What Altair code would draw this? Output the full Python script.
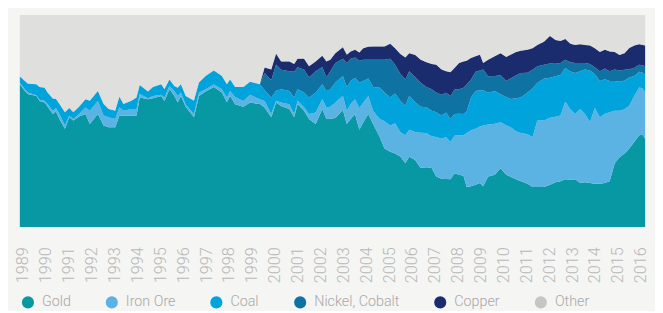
import altair as alt
import pandas as pd

series = ["Gold", "Iron Ore", "Coal", "Nickel, Cobalt", "Copper", "Other"]
colors = ["#0898a4", "#5ab3e3", "#00a3db", "#0e73a3", "#1b2c6e", "#c6c6c4"]

years = [1988.86, 1989.08, 1989.22, 1989.58, 1989.72, 1989.94, 1990.08, 1990.30, 1990.44, 1990.59,
         1990.83, 1991.02, 1991.20, 1991.45, 1991.73, 1991.92, 1992.27, 1992.52, 1992.74, 1993.03,
         1993.21, 1993.39, 1993.74, 1993.96, 1994.10, 1994.46, 1994.68, 1995.04, 1995.18, 1995.40,
         1995.61, 1995.76, 1995.90, 1996.11, 1996.47, 1996.69, 1996.98, 1997.34, 1997.69, 1997.91,
         1998.05, 1998.27, 1998.63, 1998.92, 1999.35, 1999.56, 1999.85, 2000.06, 2000.28, 2000.64,
         2000.85, 2001.00, 2001.28, 2001.50, 2001.79, 2002.08, 2002.26,
         2002.43, 2002.65, 2002.98, 2003.15, 2003.32, 2003.51, 2003.70, 2003.87, 2004.09, 2004.30,
         2004.59, 2004.80, 2005.05, 2005.26, 2005.49, 2005.71, 2005.88, 2006.14, 2006.38, 2006.63,
         2006.86, 2007.06, 2007.29, 2007.49, 2007.68, 2007.86, 2008.06, 2008.25, 2008.39, 2008.58,
         2008.78, 2008.97, 2009.11, 2009.33, 2009.62, 2009.87, 2010.12, 2010.33, 2010.55, 2010.76,
         2011.05, 2011.27, 2011.48, 2011.77, 2012.03, 2012.27, 2012.49, 2012.70, 2012.92, 2013.13,
         2013.35, 2013.56, 2013.78, 2013.99, 2014.21, 2014.43, 2014.64, 2014.86, 2015.07, 2015.29,
         2015.50, 2015.72, 2015.93, 2016.08, 2016.19]

gold = [67.3, 64.2, 62.6, 61.9, 59.5, 58.8, 56.7, 53.3, 54.6, 51.0,
        46.4, 51.8, 50.2, 52.1, 53.3, 48.7, 53.3, 47.9, 47.1, 47.1,
        52.6, 52.6, 52.6, 52.6, 61.1, 60.3, 60.8, 61.9, 59.5, 65.0,
        61.9, 58.8, 61.9, 56.7, 51.8, 61.9, 63.9, 66.0, 63.4, 58.8,
        61.9, 58.0, 56.7, 58.8, 58.0, 56.4, 51.8, 58.8, 57.2, 55.7,
        51.8, 58.0, 54.9, 51.0, 48.7, 55.7, 51.0,
        51.0, 51.5, 55.2, 48.7, 51.0, 53.3, 45.9, 49.5, 53.3, 48.7,
        42.5, 37.1, 35.5, 34.7, 33.2, 30.1, 33.2, 31.6, 27.8, 28.2,
        27.8, 23.9, 22.8, 22.6, 22.6, 25.4, 24.7, 24.2, 18.9, 19.2,
        20.0, 20.8, 19.2, 23.9, 24.7, 27.8, 24.7, 23.6, 22.6, 21.6,
        20.5, 18.9, 18.9, 18.9, 20.0, 21.1, 21.6, 22.6, 22.3, 22.6,
        20.8, 21.1, 20.8, 20.5, 20.5, 20.8, 21.6, 30.1, 32.9, 34.7,
        37.1, 40.2, 43.3, 43.6, 41.7]

iron_ore = [0.8, 0.8, 0.8, 0.3, 0.5, 0.8, 1.2, 1.6, 1.6, 2.3,
            1.6, 0.8, 0.8, 1.2, 3.1, 6.2, 6.2, 4.7, 4.7, 3.9,
            3.9, 2.3, 3.1, 3.1, 1.6, 0.5, 1.1, 0.5, 1.6, 1.6,
            2.3, 3.1, 1.6, 0.9, 1.6, 1.6, 1.1, 1.2, 1.6, 2.3,
            2.3, 3.4, 2.8, 3.6, 2.3, 3.1, 1.6, 0.8, 1.6, 2.3,
            1.6, 1.6, 1.6, 2.3, 5.4, 4.7, 5.4,
            5.7, 7.3, 6.7, 6.2, 7.0, 7.0, 10.2, 9.3, 8.5, 6.2,
            8.5, 12.9, 12.4, 14.3, 11.6, 13.2, 12.7, 13.2, 16.7, 16.1,
            15.0, 18.6, 18.9, 19.8, 17.5, 17.8, 18.6, 19.1, 25.4, 26.4,
            26.4, 26.7, 28.7, 24.5, 24.0, 21.7, 23.3, 23.3, 22.6, 22.8,
            23.3, 23.6, 31.3, 31.3, 31.5, 31.0, 31.0, 36.6, 33.3, 30.7,
            34.9, 32.2, 28.7, 35.7, 31.3, 32.6, 32.6, 24.8, 22.0, 20.9,
            20.2, 21.7, 22.5, 21.9, 21.7]

coal = [2.9, 3.9, 4.2, 5.1, 6.0, 6.2, 5.4, 5.7, 4.2, 4.7,
        6.2, 3.6, 3.1, 3.4, 3.9, 4.7, 4.7, 5.4, 3.9, 3.9,
        5.0, 3.1, 3.9, 5.4, 4.3, 3.1, 4.2, 5.0, 3.9, 3.1,
        2.3, 3.9, 3.9, 4.2, 6.2, 4.7, 6.2, 6.5, 6.2, 6.2,
        5.4, 4.7, 6.5, 6.2, 7.0, 5.0, 7.8, 4.7, 6.2, 6.2,
        7.8, 5.4, 7.0, 7.8, 9.3, 7.0, 7.8,
        8.2, 9.3, 9.3, 11.2, 10.9, 10.1, 11.9, 10.1, 8.2, 11.2,
        14.7, 13.5, 13.2, 14.0, 14.7, 14.0, 16.0, 14.0, 12.2, 12.1,
        12.1, 11.6, 10.9, 11.6, 10.9, 10.1, 10.1, 10.1, 10.2, 15.5,
        17.8, 17.1, 16.6, 15.0, 15.5, 13.2, 13.2, 13.5, 15.5, 16.7,
        19.7, 22.9, 17.8, 19.8, 18.9, 19.1, 19.1, 15.8, 17.8, 19.4,
        17.8, 20.9, 24.3, 16.1, 17.1, 16.3, 14.7, 14.0, 13.6, 13.5,
        13.2, 9.3, 7.4, 7.3, 8.5]

nickel_cobalt = [0.0] * 45 + [
        8.2, 8.1, 12.4, 9.3, 9.3, 12.1, 10.4, 10.9, 9.6, 10.1, 8.1, 6.5,
        8.5, 9.3, 8.2, 11.3, 10.5, 9.6, 10.4, 10.1, 8.8, 12.9,
        13.2, 15.5, 18.3, 13.6, 12.7, 12.4, 11.6, 11.9, 11.3, 9.6,
        10.1, 9.3, 9.8, 9.3, 10.9, 11.6, 11.6, 12.4, 12.7, 8.5,
        9.0, 9.3, 9.8, 7.8, 7.0, 9.0, 7.8, 9.8, 10.9, 11.6,
        9.3, 8.8, 7.8, 6.5, 6.7, 5.9, 5.7, 3.9, 4.3, 4.7,
        3.9, 3.1, 3.1, 3.1, 4.7, 5.1, 4.7, 5.4, 5.3, 5.1,
        3.9, 3.9, 3.4, 3.6, 3.9]

copper = [0.0] * 45 + [
        2.6, 5.1, 5.1, 3.9, 4.7, 3.7, 4.0, 5.1, 5.1, 4.7, 5.4, 7.4,
        5.4, 4.7, 5.4, 3.9, 3.4, 3.6, 3.9, 5.4, 6.2, 6.2,
        6.2, 6.2, 7.0, 7.8, 9.3, 10.4, 8.5, 10.5, 10.9, 11.6,
        11.9, 13.2, 11.9, 10.1, 11.2, 10.1, 12.4, 12.4, 11.2, 10.1,
        7.3, 7.4, 3.1, 7.8, 9.3, 10.4, 11.2, 11.2, 10.9, 10.4,
        10.9, 10.1, 10.1, 10.9, 13.0, 11.2, 10.4, 9.8, 8.8, 8.5,
        8.8, 8.5, 8.7, 9.0, 9.0, 8.8, 9.3, 8.2, 7.4, 7.8,
        10.1, 10.5, 9.6, 9.6, 9.8]

other = [29.0, 31.2, 32.4, 32.7, 34.0, 34.3, 36.6, 39.4, 39.7, 42.0,
         45.9, 43.9, 45.9, 43.3, 39.7, 40.5, 35.8, 42.0, 44.3, 45.1,
         38.6, 42.0, 40.5, 38.9, 33.0, 36.1, 34.0, 32.7, 35.0, 30.4,
         33.5, 34.3, 32.7, 38.1, 40.5, 31.9, 28.8, 26.2, 28.8, 32.7,
         30.4, 34.0, 34.0, 31.5, 32.7, 24.7, 25.7, 18.3, 21.9, 21.9,
         23.1, 20.6, 20.6, 24.2, 21.9, 19.2, 21.9,
         21.1, 18.0, 15.2, 18.8, 17.2, 16.4, 17.7, 15.7, 14.9, 14.9,
         14.9, 14.9, 13.6, 15.7, 18.4, 20.0, 18.0, 18.8, 21.1, 22.3,
         23.1, 23.4, 25.7, 26.5, 27.0, 25.0, 22.6, 21.9, 21.6, 20.3,
         19.5, 18.8, 22.6, 21.1, 19.5, 18.0, 19.8, 18.6, 17.5, 16.9,
         16.4, 15.7, 14.1, 12.6, 9.9, 11.8, 12.2, 11.3, 13.5, 14.1,
         13.8, 14.1, 14.4, 15.7, 17.5, 16.4, 17.2, 17.5, 18.8, 18.0,
         15.5, 14.4, 13.8, 14.1, 14.4]

tick_years = list(range(1989, 2017))

values = [gold, iron_ore, coal, nickel_cobalt, copper, other]
rows = []
for rank, (name, vals) in enumerate(zip(series, values)):
    for yr, v in zip(years, vals):
        rows.append({"year": yr, "series": name, "share": v, "rank": rank})
df = pd.DataFrame(rows)

chart = alt.Chart(df).mark_area(interpolate="linear").encode(
    x=alt.X("year:Q",
            scale=alt.Scale(domain=[years[0], years[-1]], nice=False, zero=False),
            axis=alt.Axis(values=tick_years, format="d", labelAngle=270, domain=False,
                          ticks=False, grid=False, labelPadding=20, labelFlush=False,
                          labelOverlap=False, labelColor="#b8b8b8", labelFont="Roboto",
                          labelFontSize=16.5, labelFontWeight=300, title=None)),
    y=alt.Y("share:Q", stack="normalize", axis=None,
            scale=alt.Scale(domain=[0, 1], nice=False)),
    color=alt.Color("series:N",
                    scale=alt.Scale(domain=series, range=colors),
                    legend=alt.Legend(orient="none", legendX=1, legendY=284,
                                      direction="horizontal", title=None,
                                      symbolType="circle", symbolSize=150,
                                      symbolStrokeWidth=0, symbolOpacity=1,
                                      labelFont="Roboto", labelFontSize=14.5,
                                      labelFontWeight=300, labelColor="#a8a8a8",
                                      labelOffset=7, columnPadding=34,
                                      columns=6)),
    opacity=alt.condition("datum.series === 'Other'", alt.value(0.47), alt.value(1)),
    order=alt.Order("rank:Q", sort="ascending"),
).properties(
    width=634, height=215,
    background="#f5f5f3",
    padding={"left": 7, "top": 5, "right": 5, "bottom": 0},
).configure_view(stroke=None)

chart.save("out.html", embed_options={"renderer": "svg", "actions": False})
